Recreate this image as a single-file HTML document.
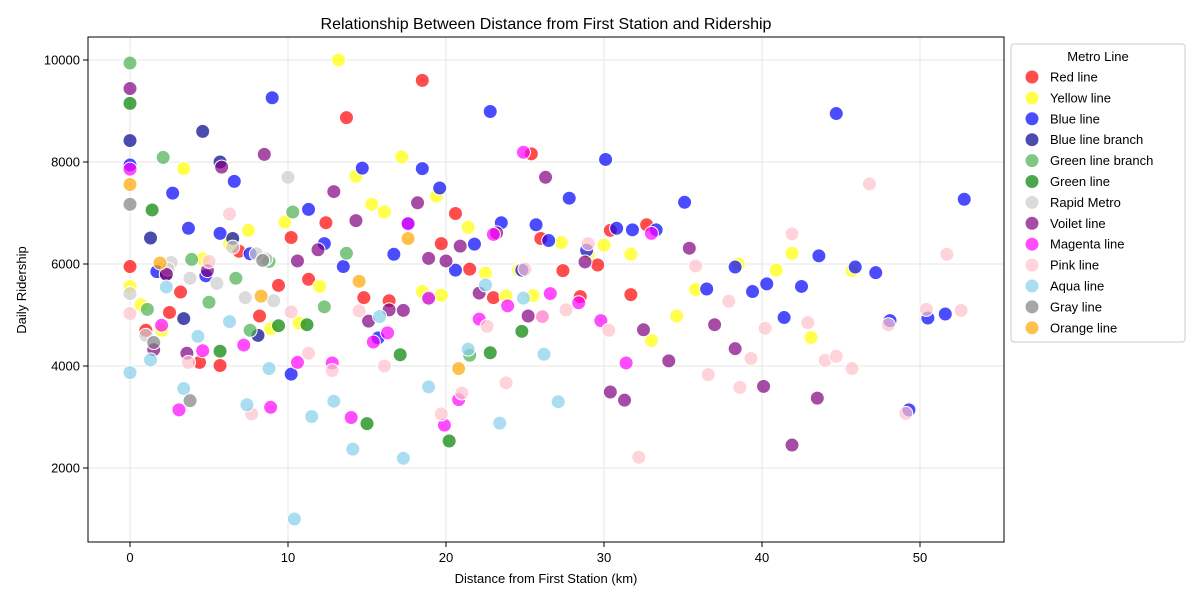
<!DOCTYPE html>
<html><head><meta charset="utf-8">
<style>
body{margin:0;background:#fff;font-family:"Liberation Sans",sans-serif;}
svg text{font-family:"Liberation Sans",sans-serif;}
</style></head>
<body>
<svg id="chart" width="1200" height="600" xmlns="http://www.w3.org/2000/svg">
<rect width="1200" height="600" fill="#fff"/>
<text x="546" y="29" font-size="16" text-anchor="middle">Relationship Between Distance from First Station and Ridership</text>
<g id="grid"></g>
<g id="points"></g>
<rect x="88" y="37" width="916" height="505" fill="none" stroke="#000" stroke-width="1"/>
<g id="ticks"></g>
<text x="546" y="583" font-size="13" text-anchor="middle">Distance from First Station (km)</text>
<text transform="translate(26,290) rotate(-90)" font-size="13" text-anchor="middle">Daily Ridership</text>
<g id="legend"></g>
</svg>
<script>
const seriesNames=["Red line","Yellow line","Blue line","Blue line branch","Green line branch","Green line","Rapid Metro","Voilet line","Magenta line","Pink line","Aqua line","Gray line","Orange line"];
const seriesColors=["#ff0000","#ffff00","#0000ff","#00008b","#4caf50","#008000","#cccccc","#800080","#ff00ff","#ffc0cb","#87ceeb","#808080","#ffa500"];
const xTicks=[0,10,20,30,40,50];
const yTicks=[2000,4000,6000,8000,10000];
const redX=[0,1,2.5,3.2,4.4,5.7,6.9,8.2,9.4,10.2,11.3,12.4,13.7,14.8,16.4,18.5,19.7,20.6,21.5,23,25.4,26,27.4,28.5,29.6,30.4,31.7,32.7];
const redY=[5950,4700,5050,5450,4070,4010,6250,4980,5580,6520,5700,6810,8870,5340,5280,9600,6400,6990,5900,5340,8160,6500,5870,5360,5980,6660,5400,6770];
const yellowX=[0,0.7,2,3.4,4.6,6.3,7.5,8.9,9.8,10.7,12,13.2,14.3,15.3,16.1,17.2,18.5,19.4,19.7,21.4,22.5,23.8,24.6,25.5,27.3,29,30,31.7,33,34.6,35.8,38.5,40.9,41.9,43.1,45.7];
const yellowY=[5560,5200,4700,7870,6100,6400,6660,4730,6820,4840,5560,10000,7720,7170,7020,8100,5460,7330,5390,6720,5820,5370,5880,5380,6420,6200,6370,6190,4500,4980,5500,6000,5880,6210,4560,5870];
const blueX=[0,1.7,2.7,3.7,4.8,5.7,6.6,7.6,9,10.2,11.3,12.3,13.5,14.7,15.7,16.7,17.6,18.5,19.6,20.6,21.8,22.8,23.5,24.8,25.7,26.5,27.8,28.9,30.1,30.8,31.8,33.3,35.1,36.5,38.3,39.4,40.3,41.4,42.5,43.6,44.7,45.9,47.2,48.1,49.3,50.5,51.6,52.8];
const blueY=[7940,5850,7390,6700,5770,6600,7620,6200,9260,3840,7070,6400,5950,7880,4550,6190,6800,7870,7490,5880,6390,8990,6810,5880,6770,6460,7290,6270,8050,6700,6670,6670,7210,5510,5940,5460,5610,4950,5560,6160,8950,5940,5830,4890,3140,4940,5020,7270];
const blueBranchX=[0,1.3,3.4,4.6,5.7,6.5,8.1,2.3];
const blueBranchY=[8420,6510,4930,8600,8000,6500,4600,5800];
const greenBranchX=[0,1.1,2.1,3.9,5,6.7,7.6,8.8,10.3,12.3,13.7,18.9,21.5];
const greenBranchY=[9940,5110,8090,6090,5250,5720,4700,6050,7020,5160,6210,5310,4210];
const greenX=[0,1.4,5.7,9.4,11.2,15,17.1,20.2,22.8,24.8];
const greenY=[9150,7060,4290,4790,4810,2870,4220,2530,4260,4680];
const rapidX=[1,2.6,3.8,5.5,6.5,7.3,8.6,9.1,10,2.4,8,0];
const rapidY=[4600,6030,5720,5620,6330,5340,6100,5280,7700,5900,6200,5420];
const violetX=[0,1.5,2.3,3.6,4.9,5.8,8.5,10.6,11.9,12.9,14.3,15.1,16.4,17.3,18.2,18.9,20,20.9,22.1,23.2,25.2,26.3,28.8,30.4,31.3,32.5,34.1,35.4,37,38.3,40.1,41.9,43.5];
const violetY=[9440,4320,5800,4250,5870,7900,8150,6060,6280,7420,6850,4880,5100,5090,7200,6110,6060,6350,5430,6610,4980,7700,6040,3490,3330,4710,4100,6310,4810,4340,3600,2450,3370];
const magentaX=[0,2,3.1,4.6,7.2,8.9,10.6,12.8,14,15.4,16.3,17.6,18.9,19.9,20.8,22.1,23,23.9,24.9,26.1,26.6,28.4,29.8,31.4,33];
const magentaY=[7860,4800,3140,4300,4410,3190,4070,4060,2990,4470,4650,6790,5330,2840,3340,4920,6580,5180,8190,4960,5420,5240,4890,4060,6600];
const pinkX=[0,5,6.3,7.7,10.2,11.3,12.8,14.5,16.1,19.7,21,22.6,23.8,25,26.1,27.6,29,30.3,32.2,35.8,36.6,37.9,38.6,39.3,40.2,41.9,42.9,44,44.7,45.7,46.8,48,49.1,50.4,51.7,52.6,3.7];
const pinkY=[5030,6050,6980,3060,5060,4250,3910,5080,4000,3060,3470,4780,3670,5900,4970,5100,6400,4700,2210,5960,3830,5270,3580,4150,4740,6590,4850,4110,4190,3950,7570,4810,3070,5110,6190,5090,4070];
const aquaX=[0,1.3,2.3,3.4,4.3,6.3,7.4,8.8,10.4,11.5,12.9,14.1,15.8,17.3,18.9,21.4,22.5,23.4,24.9,26.2,27.1];
const aquaY=[3870,4120,5550,3560,4580,4870,3240,3950,1000,3010,3310,2370,4970,2190,3590,4330,5590,2880,5330,4230,3300];
const grayX=[0,1.5,3.8,8.4];
const grayY=[7170,4460,3320,6070];
const orangeX=[0,1.9,8.3,14.5,17.6,20.8];
const orangeY=[7560,6020,5370,5660,6500,3950];
const allX=[redX,yellowX,blueX,blueBranchX,greenBranchX,greenX,rapidX,violetX,magentaX,pinkX,aquaX,grayX,orangeX];
const allY=[redY,yellowY,blueY,blueBranchY,greenBranchY,greenY,rapidY,violetY,magentaY,pinkY,aquaY,grayY,orangeY];

const NS="http://www.w3.org/2000/svg";
const xs=v=>130+v*15.8;
const ys=v=>468-(v-2000)*0.051;
function mk(tag,attrs,parent){const e=document.createElementNS(NS,tag);for(const k in attrs)e.setAttribute(k,attrs[k]);parent.appendChild(e);return e;}
const grid=document.getElementById('grid'),ticks=document.getElementById('ticks'),pts=document.getElementById('points'),leg=document.getElementById('legend');
xTicks.forEach(t=>{
  const g=mk('line',{x1:xs(t),x2:xs(t),y1:37,y2:542,stroke:'#e5e5e5','stroke-width':1},grid);
  
  
  mk('line',{x1:xs(t),x2:xs(t),y1:542,y2:547,stroke:'#000'},ticks);
  const tx=mk('text',{x:xs(t),y:562,'font-size':13,'text-anchor':'middle'},ticks);
  tx.textContent=t;
  
  
});
yTicks.forEach(t=>{
  const g=mk('line',{x1:88,x2:1004,y1:ys(t),y2:ys(t),stroke:'#e5e5e5','stroke-width':1},grid);
  
  
  mk('line',{x1:83,x2:88,y1:ys(t),y2:ys(t),stroke:'#000'},ticks);
  const tx=mk('text',{x:80,y:ys(t)+4.5,'font-size':13,'text-anchor':'end'},ticks);
  tx.textContent=t;
  
  
});
allX.forEach((xarr,si)=>{
  xarr.forEach((xv,i)=>{
    const c=mk('circle',{cx:xs(xv),cy:ys(allY[si][i]),r:7,fill:seriesColors[si],'fill-opacity':0.7,stroke:'#fff','stroke-width':1},pts);
    
    
  });
});
const lb=mk('rect',{x:1011,y:44,width:174,height:298,rx:3,fill:'#fff',stroke:'#ccc'},leg);


const lt=mk('text',{x:1098,y:61,'font-size':13,'text-anchor':'middle'},leg);
lt.textContent='Metro Line';


seriesNames.forEach((n,i)=>{
  const y=77+i*20.9;
  const c=mk('circle',{cx:1032,cy:y,r:7,fill:seriesColors[i],'fill-opacity':0.7,stroke:'#fff'},leg);
  
  
  const t=mk('text',{x:1050,y:y+4.5,'font-size':13},leg);
  t.textContent=n;
  
  
});
</script>
</body></html>
